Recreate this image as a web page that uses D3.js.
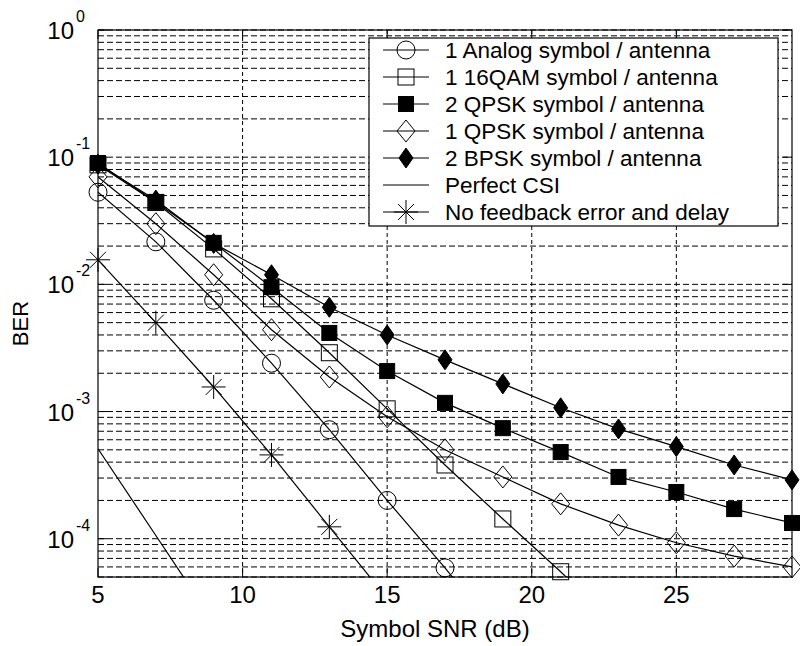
<!DOCTYPE html>
<html>
<head>
<meta charset="utf-8">
<script src="https://cdn.jsdelivr.net/npm/d3@7"></script>
<style>
  body { margin: 0; background: #fff; }
  text { font-family: "Liberation Sans", Arial, sans-serif; fill: #000; }
</style>
</head>
<body>
<svg width="800" height="646"></svg>
<script>
// values
var snr = [5, 7, 9, 11, 13, 15, 17, 19, 21, 23, 25, 27, 29];
var analog = [0.053, 0.0216, 0.0075, 0.0024, 7.2e-4, 2.0e-4, 5.9e-5, 1.6e-5];
var qam16 = [0.087, 0.044, 0.019, 0.0077, 0.0029, 1.05e-3, 3.8e-4, 1.43e-4, 5.5e-5, 2.0e-5];
var qpsk2 = [0.090, 0.0445, 0.0212, 0.0095, 0.00415, 0.00208, 0.00117, 7.4e-4, 4.8e-4, 3.06e-4, 2.33e-4, 1.71e-4, 1.33e-4];
var qpsk1 = [0.070, 0.030, 0.0119, 0.0044, 0.00187, 9.1e-4, 5.0e-4, 3.06e-4, 1.88e-4, 1.28e-4, 9.3e-5, 7.3e-5, 6.0e-5];
var bpsk2 = [0.088, 0.046, 0.021, 0.0119, 0.0066, 0.0040, 0.00255, 0.00165, 0.00107, 7.3e-4, 5.3e-4, 3.8e-4, 2.9e-4];
var perfect = [5.1e-4, 1.06e-4, 2.2e-5];
var nofb = [0.0156, 0.0050, 0.00156, 4.56e-4, 1.24e-4, 3.4e-5];

var xTicks = [5, 10, 15, 20, 25];
var yDecades = [0, -1, -2, -3, -4];

var series = [
  {name: "1 Analog symbol / antenna", values: analog, marker: "circle"},
  {name: "1 16QAM symbol / antenna", values: qam16, marker: "square"},
  {name: "2 QPSK symbol / antenna", values: qpsk2, marker: "squareFilled"},
  {name: "1 QPSK symbol / antenna", values: qpsk1, marker: "diamond"},
  {name: "2 BPSK symbol / antenna", values: bpsk2, marker: "diamondFilled"},
  {name: "Perfect CSI", values: perfect, marker: "none"},
  {name: "No feedback error and delay", values: nofb, marker: "star"}
];

var svg = d3.select("svg"),
    margin = {top: 30, right: 8, bottom: 69, left: 98},
    width = +svg.attr("width") - margin.left - margin.right,
    height = +svg.attr("height") - margin.top - margin.bottom;

var x = d3.scaleLinear().domain([5, 29]).range([0, width]);
var y = d3.scaleLog().domain([5e-5, 1]).range([height, 0]);

var g = svg.append("g")
    .attr("transform", "translate(" + margin.left + "," + margin.top + ")");

svg.append("defs").append("clipPath").attr("id", "clip")
  .append("rect").attr("width", width).attr("height", height);

// horizontal grid (major + minor)
var gridVals = [];
yDecades.forEach(function(e) {
  for (var k = 1; k <= 9; k++) {
    var v = k * Math.pow(10, e - 1);
    if (v >= 5e-5 && v <= 1) gridVals.push(v);
  }
});
gridVals.push(1);

g.selectAll(".hgrid")
  .data(gridVals)
  .enter().append("line")
    .attr("x1", 0).attr("x2", width)
    .attr("y1", function(d) { return y(d); })
    .attr("y2", function(d) { return y(d); })
    .style("stroke", "#000")
    .style("stroke-width", 1)
    .style("stroke-dasharray", "6,3");

g.selectAll(".vgrid")
  .data(xTicks.slice(1))
  .enter().append("line")
    .attr("x1", function(d) { return x(d); })
    .attr("x2", function(d) { return x(d); })
    .attr("y1", 0).attr("y2", height)
    .style("stroke", "#000")
    .style("stroke-width", 1)
    .style("stroke-dasharray", "4,3");

// inner ticks
g.selectAll(".xtick")
  .data(xTicks)
  .enter().append("path")
    .attr("d", function(d) {
      return "M" + x(d) + "," + height + "v-9M" + x(d) + ",0v9";
    })
    .style("stroke", "#000");

g.selectAll(".ytick")
  .data(yDecades)
  .enter().append("path")
    .attr("d", function(d) {
      var yy = y(Math.pow(10, d));
      return "M0," + yy + "h9M" + width + "," + yy + "h-9";
    })
    .style("stroke", "#000");

// frame
g.append("rect")
    .attr("width", width).attr("height", height)
    .style("fill", "none")
    .style("stroke", "#000")
    .style("stroke-width", 1.2);

// tick labels
g.selectAll(".xlab")
  .data(xTicks)
  .enter().append("text")
    .attr("x", function(d) { return x(d); })
    .attr("y", height + 26)
    .attr("text-anchor", "middle")
    .style("font-size", "24px")
    .text(function(d) { return d; });

var ylab = g.selectAll(".ylab")
  .data(yDecades)
  .enter().append("g")
    .attr("transform", function(d) { return "translate(-24," + y(Math.pow(10, d)) + ")"; });
ylab.append("text")
    .attr("x", 0).attr("y", 9)
    .attr("text-anchor", "end")
    .style("font-size", "24px")
    .text("10");
ylab.append("text")
    .attr("x", 2).attr("y", -8)
    .style("font-size", "16px")
    .text(function(d) { return d; });

// axis titles
svg.append("text")
    .attr("x", margin.left + width / 2 - 10)
    .attr("y", 637)
    .attr("text-anchor", "middle")
    .style("font-size", "24px")
    .text("Symbol SNR (dB)");

svg.append("text")
    .attr("transform", "translate(28," + (margin.top + height / 2 + 20) + ") rotate(-90)")
    .attr("text-anchor", "middle")
    .style("font-size", "22px")
    .text("BER");

// markers
function drawMarker(sel, type) {
  if (type == "circle") {
    sel.append("circle").attr("r", 9).style("fill", "none").style("stroke", "#000");
  } else if (type == "square" || type == "squareFilled") {
    var s = type == "square" ? 16 : 15;
    sel.append("rect").attr("x", -s / 2).attr("y", -s / 2).attr("width", s).attr("height", s)
      .style("fill", type == "square" ? "none" : "#000").style("stroke", "#000");
  } else if (type == "diamond") {
    sel.append("path").attr("d", "M0,-11L9,0L0,11L-9,0Z")
      .style("fill", "none").style("stroke", "#000");
  } else if (type == "diamondFilled") {
    sel.append("path").attr("d", "M0,-10L7,0L0,10L-7,0Z")
      .style("fill", "#000").style("stroke", "#000");
  } else if (type == "star") {
    sel.append("path").attr("d", "M-12,0H12M0,-12V12M-8,-8L8,8M-8,8L8,-8")
      .style("fill", "none").style("stroke", "#000");
  }
}

var line = d3.line()
    .x(function(d) { return x(d.snr); })
    .y(function(d) { return y(d.ber); });

series.forEach(function(s) {
  var pts = s.values.map(function(v, i) { return {snr: snr[i], ber: v}; });
  g.append("path")
      .datum(pts)
      .attr("clip-path", "url(#clip)")
      .attr("d", line)
      .style("fill", "none")
      .style("stroke", "#000")
      .style("stroke-width", 1.2);
  if (s.marker != "none") {
    g.selectAll(null)
      .data(pts.filter(function(d) { return d.ber >= 5e-5; }))
      .enter().append("g")
        .attr("transform", function(d) { return "translate(" + x(d.snr) + "," + y(d.ber) + ")"; })
        .each(function() { drawMarker(d3.select(this), s.marker); });
  }
});

// legend
var legend = svg.append("g").attr("transform", "translate(369,38)");
legend.append("rect")
    .attr("width", 409).attr("height", 188)
    .style("fill", "#fff")
    .style("stroke", "#000")
    .style("stroke-width", 1.2);

var item = legend.selectAll(".item")
  .data(series)
  .enter().append("g")
    .attr("transform", function(d, i) { return "translate(0," + (12 + i * 27) + ")"; });
item.append("line")
    .attr("x1", 14).attr("x2", 60)
    .style("stroke", "#000");
item.each(function(d) {
  var m = d3.select(this).append("g").attr("transform", "translate(37,0)");
  drawMarker(m, d.marker);
});
item.append("text")
    .attr("x", 76).attr("y", 8)
    .style("font-size", "22.5px")
    .text(function(d) { return d.name; });
</script>
</body>
</html>
